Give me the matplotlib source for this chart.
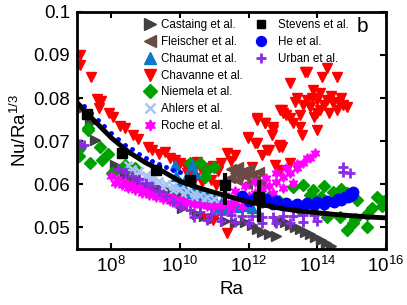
import numpy as np
import matplotlib
matplotlib.use("Agg")
import matplotlib.pyplot as plt
from matplotlib.ticker import FixedLocator, NullLocator

plt.rcParams['font.family'] = ['Liberation Sans', 'DejaVu Sans']
plt.rcParams['mathtext.fontset'] = 'custom'
plt.rcParams['mathtext.rm'] = 'Liberation Sans'
plt.rcParams['mathtext.it'] = 'Liberation Sans:italic'

# data: exponent of Ra (log10 Ra) and Nu/Ra^(1/3)
cast_lr = [7.03, 7.38, 7.53,
           8.1, 8.3, 8.5, 8.7, 8.9, 9.1, 9.3, 9.5, 9.7, 9.9, 10.1,
           8.2, 8.4, 8.6, 8.8, 9.0, 9.2, 9.4, 9.6, 9.8, 10.0, 10.06,
           10.5, 10.7, 11.0, 11.3, 11.6, 11.9, 12.1, 12.25, 12.4, 12.6, 12.8,
           12.9, 13.05, 13.2, 13.35, 13.5, 13.65, 13.8, 13.95, 14.1, 14.25, 14.4]
cast_nu = [0.0772, 0.0742, 0.0703,
           0.0645, 0.0635, 0.0625, 0.0615, 0.0606, 0.0599, 0.0593, 0.0587, 0.0582, 0.0577, 0.0573,
           0.0632, 0.0622, 0.0612, 0.0603, 0.0595, 0.0588, 0.0582, 0.0577, 0.0572, 0.0566, 0.0544,
           0.0532, 0.0527, 0.0522, 0.0515, 0.0510, 0.0512, 0.0505, 0.0495, 0.0490, 0.0485, 0.0480,
           0.0515, 0.0512, 0.0505, 0.0500, 0.0495, 0.0490, 0.0484, 0.0478, 0.0470, 0.0463, 0.0456]

flei_lr = [11.45, 11.5, 11.6, 11.65, 11.7, 11.8, 11.9, 11.95, 12.0, 12.1, 12.2, 12.3, 12.35]
flei_nu = [0.0615, 0.0635, 0.0625, 0.0610, 0.0640, 0.0628, 0.0618, 0.0600, 0.0635, 0.0622, 0.0610, 0.0628, 0.0605]

chau_lr = [9.85, 9.9, 10.0, 10.1, 10.2, 10.3, 10.35, 10.4, 10.45, 10.5, 10.6, 10.7, 10.8,
           10.9, 11.0, 11.1, 11.2, 11.3, 11.4, 11.5, 11.7, 11.9, 12.1]
chau_nu = [0.0645, 0.0620, 0.0605, 0.0595, 0.0620, 0.0580, 0.0645, 0.0595, 0.0625, 0.0570, 0.0585, 0.0560, 0.0575,
           0.0555, 0.0565, 0.0548, 0.0557, 0.0545, 0.0550, 0.0555, 0.0548, 0.0550, 0.0545]

chav_lr = [7.09, 7.09, 7.41, 7.58, 7.70, 7.64, 7.93, 8.05, 8.25, 8.40, 8.63, 8.78, 9.07, 9.18,
           9.39, 9.56, 9.71, 9.85, 10.0, 10.15, 10.3, 10.38, 10.5, 10.6, 10.8, 10.7, 10.95, 11.1,
           11.2, 11.37, 11.6, 11.5, 10.96, 11.37, 10.78, 10.45, 10.65, 10.9, 11.05, 10.2, 11.8, 12.1,
           12.24, 12.48, 12.70, 11.98, 12.18, 12.53, 12.39, 12.90, 12.77, 12.97, 13.10, 13.70, 14.28,
           14.57, 14.14, 13.20, 13.87, 14.08, 13.40, 12.91, 13.70, 13.99, 14.28, 14.46, 14.86, 14.57,
           13.79, 14.08, 13.50, 13.20, 13.00, 13.29, 13.50, 12.24, 12.48, 12.70, 11.98, 12.68, 12.24,
           12.91, 12.60, 13.64, 14.75, 13.99, 13.56, 12.97, 13.20, 12.91,
           13.85, 14.2, 14.4, 14.65, 13.6, 13.35, 14.0, 14.35, 13.9, 14.7]
chav_nu = [0.0900, 0.0877, 0.0849, 0.0798, 0.0793, 0.0777, 0.0765, 0.0756, 0.0735, 0.0730, 0.0714, 0.0705, 0.0686, 0.0679,
           0.0670, 0.0674, 0.0660, 0.0656, 0.0649, 0.0645, 0.0640, 0.0633, 0.0652, 0.0640, 0.0637, 0.0625, 0.0642, 0.0630,
           0.0650, 0.0672, 0.0667, 0.0655, 0.0516, 0.0486, 0.0520, 0.0615, 0.0605, 0.0610, 0.0598, 0.0625, 0.0620, 0.0640,
           0.0749, 0.0742, 0.0733, 0.0707, 0.0695, 0.0679, 0.0667, 0.0686, 0.0644, 0.0772, 0.0760, 0.0860, 0.0870,
           0.0850, 0.0850, 0.0835, 0.0819, 0.0812, 0.0800, 0.0772, 0.0795, 0.0795, 0.0795, 0.0788, 0.0779, 0.0772,
           0.0779, 0.0772, 0.0760, 0.0753, 0.0765, 0.0742, 0.0733, 0.0753, 0.0742, 0.0726, 0.0709, 0.0714, 0.0695,
           0.0690, 0.0680, 0.0860, 0.0784, 0.0726, 0.0714, 0.0686, 0.0649, 0.0633,
           0.0800, 0.0785, 0.0805, 0.0790, 0.0785, 0.0790, 0.0765, 0.0765, 0.0755, 0.0800]

niem_lr = [7.02, 7.05, 7.32, 7.67, 7.08, 7.38, 7.73, 8.02, 7.9, 8.4, 8.7, 7.32,
           10.3, 10.6, 10.78, 11.0, 10.73, 12.6, 12.9,
           13.3, 13.6, 13.88, 14.2, 14.46, 14.7, 14.86, 15.16, 15.74, 15.95,
           14.86, 15.04, 14.66, 15.45, 15.6, 15.9, 14.28, 13.5, 15.1, 15.45, 13.8, 14.1]
niem_nu = [0.0680, 0.0665, 0.0730, 0.0686, 0.0686, 0.0649, 0.0656, 0.0626, 0.0670, 0.0644, 0.0637, 0.0726,
           0.0649, 0.0650, 0.0633, 0.0640, 0.0616, 0.0570, 0.0560,
           0.0593, 0.0598, 0.0586, 0.0595, 0.0581, 0.0590, 0.0579, 0.0563, 0.0570, 0.0560,
           0.0493, 0.0510, 0.0523, 0.0532, 0.0546, 0.0550, 0.0523, 0.0540, 0.0520, 0.0500, 0.0575, 0.0570]

ahl_lr = [8.5, 8.6, 8.8, 9.0, 9.2, 9.4, 9.6, 9.8, 10.0, 10.2, 10.4, 10.6, 10.8, 11.0,
          8.6, 8.9, 9.2, 9.5, 9.8, 10.1, 10.4, 10.7]
ahl_nu = [0.0645, 0.0635, 0.0630, 0.0622, 0.0615, 0.0608, 0.0601, 0.0595, 0.0590, 0.0585, 0.0580, 0.0575, 0.0570, 0.0565,
          0.0625, 0.0612, 0.0602, 0.0594, 0.0586, 0.0578, 0.0571, 0.0565]

roch_lr = [8.0, 8.2, 8.4, 8.6, 8.8, 9.0, 9.2, 9.4, 9.6, 9.8, 10.0, 10.2,
           8.1, 8.3, 8.5, 8.7, 8.9, 9.1, 9.3, 9.5, 9.7, 9.9, 10.1,
           10.4, 10.6, 10.8, 11.0, 11.2, 11.4, 11.6, 11.8, 12.0, 12.2, 12.4, 12.6, 12.8,
           13.0, 13.2, 13.4, 13.6, 13.8, 13.95,
           11.3, 11.6, 11.9, 12.2, 12.5, 12.8, 13.1, 13.4, 13.7,
           11.5, 11.8, 12.1, 12.4, 12.7, 13.0, 13.3]
roch_nu = [0.0618, 0.0612, 0.0606, 0.0600, 0.0594, 0.0588, 0.0583, 0.0578, 0.0573, 0.0568, 0.0563, 0.0559,
           0.0604, 0.0598, 0.0592, 0.0586, 0.0580, 0.0575, 0.0570, 0.0565, 0.0560, 0.0556, 0.0551,
           0.0555, 0.0552, 0.0550, 0.0549, 0.0550, 0.0553, 0.0558, 0.0565, 0.0572, 0.0580, 0.0588, 0.0597, 0.0606,
           0.0616, 0.0627, 0.0638, 0.0650, 0.0662, 0.0672,
           0.0575, 0.0585, 0.0595, 0.0605, 0.0615, 0.0626, 0.0637, 0.0648, 0.0660,
           0.0540, 0.0550, 0.0560, 0.0570, 0.0580, 0.0591, 0.0602]

stev_lr = [7.3, 8.3, 9.3, 10.3, 11.3, 12.3]
stev_nu = [0.0762, 0.0672, 0.0633, 0.0609, 0.0598, 0.0570]
stev_lo = [0.0, 0.0, 0.0, 0.0, 0.0047, 0.0058]
stev_hi = [0.0, 0.0, 0.0, 0.0, 0.0028, 0.0039]

he_lr = [11.8, 12.2, 12.5, 12.8, 13.1, 13.4, 13.7, 14.0, 14.3, 14.6, 14.8, 14.95, 15.05,
         12.0, 12.4, 12.7, 13.0, 13.3, 13.6, 13.9, 14.2, 14.5, 14.7, 14.9, 15.0]
he_nu = [0.0572, 0.0568, 0.0565, 0.0560, 0.0557, 0.0555, 0.0556, 0.0558, 0.0561, 0.0566, 0.0571, 0.0578, 0.0583,
         0.0562, 0.0558, 0.0554, 0.0551, 0.0549, 0.0549, 0.0551, 0.0554, 0.0558, 0.0563, 0.0570, 0.0575]

urb_lr = [7.0, 7.1, 7.2,
          8.2, 8.4, 8.6, 8.8, 9.0, 9.2, 9.4, 9.6, 9.8, 10.0,
          10.3, 10.6, 10.9, 11.2, 11.5, 11.8, 12.1, 12.4, 12.7, 13.0, 13.3, 13.6, 13.9, 14.2,
          10.4, 10.8, 11.2, 11.6, 12.0, 12.4, 12.8, 13.2, 13.6, 14.0,
          14.75, 14.75, 14.95]
urb_nu = [0.0697, 0.0693, 0.0690,
          0.0635, 0.0628, 0.0620, 0.0612, 0.0603, 0.0595, 0.0585, 0.0573, 0.0558, 0.0548,
          0.0540, 0.0535, 0.0532, 0.0530, 0.0528, 0.0527, 0.0526, 0.0525, 0.0525, 0.0526, 0.0527, 0.0528, 0.0529, 0.0530,
          0.0523, 0.0518, 0.0515, 0.0512, 0.0511, 0.0510, 0.0510, 0.0511, 0.0512, 0.0514,
          0.0640, 0.0628, 0.0626]

# small blue dots running along the fit at low Ra
dots_lr = [7.0, 7.2, 7.4, 7.6, 7.8, 8.0, 8.2, 8.4, 8.6, 8.8, 9.0, 9.2, 9.4, 9.6, 9.8, 10.0]
dots_nu = [0.0800, 0.0782, 0.0766, 0.0750, 0.0735, 0.0720, 0.0705, 0.0692, 0.0681, 0.0671, 0.0662, 0.0654, 0.0647, 0.0640, 0.0634, 0.0628]

fit_lr = [7.0, 7.5, 8.0, 8.5, 9.0, 9.5, 10.0, 10.5, 11.0, 11.5, 12.0, 12.5, 13.0, 13.5, 14.0, 14.5, 15.0, 15.5, 16.0]
fit_nu = [0.0790, 0.0748, 0.0708, 0.0675, 0.0650, 0.0630, 0.0607, 0.0593, 0.0581, 0.0570, 0.0559, 0.0551, 0.0543,
          0.0538, 0.0534, 0.0530, 0.0527, 0.0524, 0.0522]

def ra(lr):
    return 10.0 ** np.array(lr)

hexstar = (6, 1, 0)

fig = plt.figure(figsize=(4.07, 3.05), dpi=100)
ax = fig.add_axes([0.189, 0.184, 0.759, 0.777])

ms = 7
h_cast, = ax.plot(ra(cast_lr), cast_nu, '>', color='#404040', ms=ms, ls='none', label='Castaing et al.')
h_chav, = ax.plot(ra(chav_lr), chav_nu, 'v', color='#ff0000', ms=ms + 0.5, ls='none', label='Chavanne et al.')
h_niem, = ax.plot(ra(niem_lr), niem_nu, 'D', color='#00a000', ms=ms - 0.8, ls='none', label='Niemela et al.')
h_flei, = ax.plot(ra(flei_lr), flei_nu, '<', color='#6b4a45', ms=ms, ls='none', label='Fleischer et al.')
h_chau, = ax.plot(ra(chau_lr), chau_nu, '^', color='#0a78c8', ms=ms + 0.5, ls='none', label='Chaumat et al.')
h_ahl, = ax.plot(ra(ahl_lr), ahl_nu, 'x', color='#a8c4f5', ms=ms - 1, mew=1.8, ls='none', label='Ahlers et al.')
h_roch, = ax.plot(ra(roch_lr), roch_nu, marker=hexstar, color='#ff00ff', ms=ms, ls='none', label='Roche et al.')
h_urb, = ax.plot(ra(urb_lr), urb_nu, '+', color='#8a2be2', ms=ms, mew=2, ls='none', label='Urban et al.')
h_he, = ax.plot(ra(he_lr), he_nu, 'o', color='#0000ff', ms=ms + 0.5, ls='none', label='He et al.')
ax.plot(ra(dots_lr), dots_nu, 'o', color='#0000ff', ms=2.5, ls='none')
ax.plot(ra(fit_lr), fit_nu, '-', color='black', lw=3.5)
ax.errorbar(ra(stev_lr), stev_nu, yerr=[stev_lo, stev_hi], fmt='none', ecolor='black', elinewidth=3)
h_stev, = ax.plot(ra(stev_lr), stev_nu, 's', color='black', ms=ms - 0.5, ls='none', label='Stevens et al.')

ax.set_xscale('log')
ax.set_xlim(1e7, 1e16)
ax.set_ylim(0.045, 0.1)
ax.xaxis.set_major_locator(FixedLocator([1e8, 1e10, 1e12, 1e14, 1e16]))
ax.xaxis.set_minor_locator(NullLocator())
ax.set_xticklabels([r'$10^{8}$', r'$10^{10}$', r'$10^{12}$', r'$10^{14}$', r'$10^{16}$'])
ax.set_yticks([0.05, 0.06, 0.07, 0.08, 0.09, 0.1])
ax.set_yticklabels(['0.05', '0.06', '0.07', '0.08', '0.09', '0.1'])
ax.tick_params(direction='in', length=4, width=1.5, top=True, right=True, labelsize=13.5, pad=5)
for s in ax.spines.values():
    s.set_linewidth(2)
ax.set_xlabel('Ra', fontsize=13.5, labelpad=4)
ax.set_ylabel(r'Nu/Ra$^{1/3}$', fontsize=13.5, labelpad=2)

leg1 = ax.legend(handles=[h_cast, h_flei, h_chau, h_chav, h_niem, h_ahl, h_roch],
                 loc='upper left', bbox_to_anchor=(0.19, 1.0), frameon=False, fontsize=8.4,
                 handletextpad=0.4, labelspacing=0.42, handlelength=1.2, borderaxespad=0.2, markerscale=1.15)
ax.add_artist(leg1)
ax.legend(handles=[h_stev, h_he, h_urb], loc='upper left', bbox_to_anchor=(0.55, 1.0), frameon=False,
          fontsize=8.4, handletextpad=0.9, labelspacing=0.42, handlelength=1.2, borderaxespad=0.2, markerscale=0.95)
ax.text(0.925, 0.94, 'b', transform=ax.transAxes, fontsize=15, ha='center', va='center')

fig.savefig('out.png', dpi=100)
